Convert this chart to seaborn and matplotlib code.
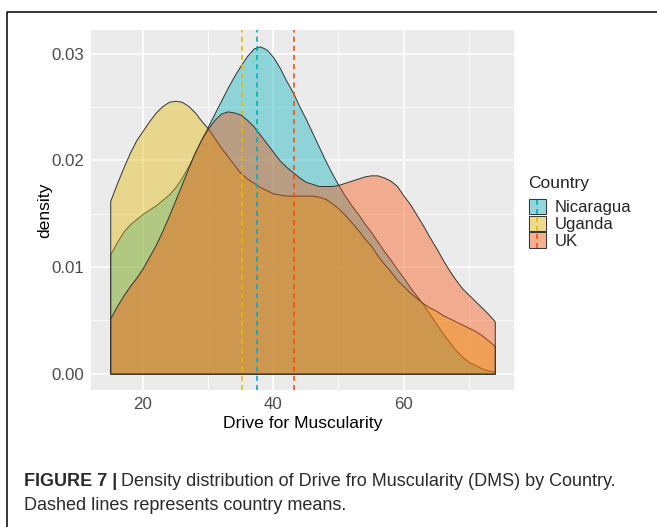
import matplotlib
matplotlib.use('Agg')
import matplotlib.pyplot as plt
import seaborn as sns
import numpy as np
import pandas as pd
from matplotlib.patches import Rectangle
from matplotlib.lines import Line2D
from matplotlib.legend_handler import HandlerBase

# density, one value per DMS point 15..74
dms = list(range(15, 75))
nicaragua = [0.0112, 0.0123, 0.0133, 0.0140, 0.0145, 0.0150, 0.0154, 0.0158,
             0.0163, 0.0168, 0.0175, 0.0184, 0.0195, 0.0207, 0.0220, 0.0232,
             0.0244, 0.0256, 0.0268, 0.0279, 0.0289, 0.0298, 0.0305, 0.0307,
             0.0304, 0.0297, 0.0287, 0.0275, 0.0264, 0.0251, 0.0239, 0.0226,
             0.0213, 0.0200, 0.0188, 0.0177, 0.0167, 0.0158, 0.0150, 0.0141,
             0.0133, 0.0124, 0.0115, 0.0107, 0.0098, 0.0090, 0.0081, 0.0073,
             0.0065, 0.0056, 0.0047, 0.0038, 0.0030, 0.0022, 0.0016, 0.0011,
             0.0008, 0.0005, 0.0003, 0.0002]
uganda = [0.0162, 0.0178, 0.0193, 0.0207, 0.0219, 0.0228, 0.0237, 0.0245,
          0.0251, 0.0255, 0.0256, 0.0255, 0.0251, 0.0245, 0.0237, 0.0230,
          0.0221, 0.0212, 0.0204, 0.0196, 0.0188, 0.0183, 0.0179, 0.0175,
          0.0172, 0.0169, 0.0168, 0.0167, 0.0167, 0.0167, 0.0167, 0.0167,
          0.0166, 0.0164, 0.0160, 0.0155, 0.0149, 0.0142, 0.0135, 0.0127,
          0.0120, 0.0111, 0.0103, 0.0096, 0.0088, 0.0082, 0.0076, 0.0071,
          0.0066, 0.0062, 0.0059, 0.0055, 0.0052, 0.0049, 0.0046, 0.0043,
          0.0040, 0.0036, 0.0031, 0.0026]
uk = [0.0052, 0.0063, 0.0073, 0.0082, 0.0090, 0.0099, 0.0110, 0.0121,
      0.0134, 0.0148, 0.0163, 0.0178, 0.0193, 0.0208, 0.0220, 0.0230,
      0.0238, 0.0244, 0.0246, 0.0245, 0.0243, 0.0238, 0.0232, 0.0224,
      0.0216, 0.0208, 0.0200, 0.0194, 0.0189, 0.0184, 0.0180, 0.0178,
      0.0176, 0.0176, 0.0176, 0.0177, 0.0179, 0.0181, 0.0183, 0.0185,
      0.0186, 0.0186, 0.0184, 0.0181, 0.0176, 0.0167, 0.0159, 0.0149,
      0.0139, 0.0128, 0.0118, 0.0107, 0.0097, 0.0088, 0.0080, 0.0074,
      0.0068, 0.0062, 0.0056, 0.0049]

countries = ['Nicaragua', 'Uganda', 'UK']
means = [37.5, 35.2, 43.2]
colors = ['#00AFBB', '#E7B800', '#FC4E07']

df = pd.DataFrame({
    'dms': dms * 3,
    'density': nicaragua + uganda + uk,
    'Country': np.repeat(countries, len(dms)),
})

sns.set_theme(style='darkgrid', rc={
    'axes.facecolor': '#EBEBEB',
    'grid.color': 'white',
    'grid.linewidth': 1.1,
})
plt.rcParams['font.family'] = ['Liberation Sans', 'DejaVu Sans']

W, H = 657, 527
fig = plt.figure(figsize=(W / 100, H / 100), dpi=100)
ax = fig.add_axes([91 / W, 1 - 390 / H, (514 - 91) / W, (390 - 30) / H])

for country, col in zip(countries, colors):
    sub = df[df['Country'] == country]
    ax.fill_between(sub['dms'], sub['density'], 0,
                    facecolor=matplotlib.colors.to_rgba(col, 0.4),
                    edgecolor='#333333', linewidth=0.7, zorder=2)

for m, col in zip(means, colors):
    ax.axvline(m, color=col, lw=1.2, ls=(0, (3, 2.5)), zorder=3)

# ggplot-like expansion
xlo, xhi = min(dms), max(dms)
ymax = df['density'].max()
ax.set_xlim(xlo - 0.05 * (xhi - xlo), xhi + 0.05 * (xhi - xlo))
ax.set_ylim(-0.05 * ymax, 1.05 * ymax)

ax.set_xticks([20, 40, 60])
ax.set_xticks([30, 50, 70], minor=True)
ax.set_yticks([0, 0.01, 0.02, 0.03])
ax.set_yticks([0.005, 0.015, 0.025], minor=True)
ax.set_yticklabels(['0.00', '0.01', '0.02', '0.03'])
ax.grid(which='minor', color='white', lw=0.55)
ax.tick_params(which='major', length=3, width=0.8, color='#333333',
               labelsize=12.2, labelcolor='#4D4D4D', pad=2)
ax.tick_params(which='minor', length=0)
ax.set_xlabel('Drive for Muscularity', fontsize=12.6, color='black',
              labelpad=3)
ax.set_ylabel('density', fontsize=12.6, color='black', labelpad=-1)
for s in ax.spines.values():
    s.set_visible(False)


class Key:
    def __init__(self, fill, line):
        self.fill = fill
        self.line = line


class KeyHandler(HandlerBase):
    def create_artists(self, legend, orig_handle, xdescent, ydescent,
                       width, height, fontsize, trans):
        x0, y0 = -xdescent, -ydescent
        bg = Rectangle((x0, y0), width, height, facecolor='#F2F2F2',
                       edgecolor='none', transform=trans)
        box = Rectangle((x0 + 0.5, y0 + 0.5), width - 1, height - 1,
                        facecolor=matplotlib.colors.to_rgba(orig_handle.fill, 0.4),
                        edgecolor='#333333', lw=0.7, transform=trans)
        mid = x0 + width / 2
        dash = Line2D([mid, mid], [y0, y0 + height], color=orig_handle.line,
                      lw=1.2, ls=(0, (3, 2.5)), transform=trans)
        return [bg, box, dash]


handles = [Key(c, c) for c in colors]
leg = fig.legend(handles, countries, handler_map={Key: KeyHandler()},
                 loc='upper left', bbox_to_anchor=(528 / W, 1 - 176 / H),
                 frameon=False, fontsize=12, title='Country',
                 title_fontsize=12.5, borderpad=0, labelspacing=0,
                 handlelength=1.1, handleheight=1.15, handletextpad=0.5,
                 borderaxespad=0)
leg._legend_box.align = 'left'
leg._legend_box.sep = 5

# figure frame (open at right and bottom)
fig.add_artist(Line2D([7 / W, 7 / W, 1], [0, 1 - 12 / H, 1 - 12 / H],
                      transform=fig.transFigure, color='black', lw=1.1))

# caption with bold lead-in
cap_col = '#2b2b2b'
cap_size = 12.95
t1 = fig.text(24 / W, 1 - 481 / H, 'FIGURE 7 |', fontsize=cap_size,
              fontweight='bold', color=cap_col, va='center', ha='left')
fig.canvas.draw()
bb = t1.get_window_extent(fig.canvas.get_renderer())
fig.text((bb.x1 + 4) / W, 1 - 481 / H,
         'Density distribution of Drive fro Muscularity (DMS) by Country.',
         fontsize=cap_size, color=cap_col, va='center', ha='left')
fig.text(24 / W, 1 - 506 / H, 'Dashed lines represents country means.',
         fontsize=cap_size, color=cap_col, va='center', ha='left')

fig.savefig('out.png', dpi=100)
